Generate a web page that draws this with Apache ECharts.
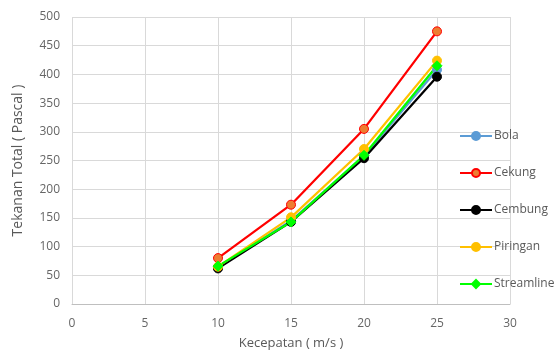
<!DOCTYPE html>
<html>
<head>
<meta charset="utf-8">
<script src="https://cdn.jsdelivr.net/npm/echarts@6/dist/echarts.min.js"></script>
<style>
  html, body { margin: 0; padding: 0; background: #fff; }
  #main { width: 559px; height: 363px; }
</style>
</head>
<body>
<div id="main"></div>
<script>
// data
var kecepatan = [10, 15, 20, 25];
var bola = [64, 145, 258, 408];
var cekung = [80, 173, 305, 475];
var cembung = [62, 143, 254, 396];
var piringan = [65, 151, 270, 424];
var streamline = [66, 143, 259, 415];

function pts (ys) {
  return kecepatan.map(function (x, i) { return [x, ys[i]]; });
}

function mkSeries (name, ys, line, fill, symbol, size) {
  return {
    name: name,
    type: 'line',
    data: pts(ys),
    symbol: symbol || 'circle',
    symbolSize: size || 9,
    lineStyle: { color: line, width: 2.25 },
    itemStyle: { color: fill, borderColor: line, borderWidth: 1 },
    emphasis: { disabled: true }
  };
}

var myChart = echarts.init(document.getElementById('main'));
var txt = '#595959';
var font = 'Open Sans';

var option = {
  animation: false,
  textStyle: { fontFamily: font },
  grid: { left: 72, right: 49, top: 17, bottom: 59 },
  legend: {
    orient: 'vertical',
    left: 454,
    top: 125,
    itemWidth: 32,
    itemHeight: 10,
    itemGap: 25,
    textStyle: { color: txt, fontSize: 12, fontFamily: font, padding: [0, 0, 0, -3] },
    data: ['Bola', 'Cekung', 'Cembung', 'Piringan', 'Streamline']
  },
  xAxis: {
    type: 'value',
    min: 0, max: 30, interval: 5,
    name: 'Kecepatan ( m/s )',
    nameLocation: 'middle',
    nameGap: 33,
    nameTextStyle: { color: txt, fontSize: 13, fontFamily: font },
    axisLine: { show: true, lineStyle: { color: '#bfbfbf' } },
    axisTick: { show: false },
    axisLabel: { color: '#666', fontSize: 12, margin: 14 },
    splitLine: { show: true, lineStyle: { color: '#d9d9d9' } }
  },
  yAxis: {
    type: 'value',
    min: 0, max: 500, interval: 50,
    name: 'Tekanan Total ( Pascal )',
    nameLocation: 'middle',
    nameGap: 47,
    nameTextStyle: { color: txt, fontSize: 14, fontFamily: font },
    axisLine: { show: false },
    axisTick: { show: false },
    axisLabel: { color: '#666', fontSize: 12, margin: 12 },
    splitLine: { show: true, lineStyle: { color: '#d9d9d9' } }
  },
  series: [
    mkSeries('Bola', bola, '#5B9BD5', '#5B9BD5'),
    mkSeries('Cekung', cekung, '#FF0000', '#ED7D31'),
    mkSeries('Cembung', cembung, '#000000', '#000000'),
    mkSeries('Piringan', piringan, '#FFC000', '#FFC000'),
    mkSeries('Streamline', streamline, '#00FF00', '#00FF00', 'diamond', 10)
  ]
};

myChart.setOption(option);
</script>
</body>
</html>
